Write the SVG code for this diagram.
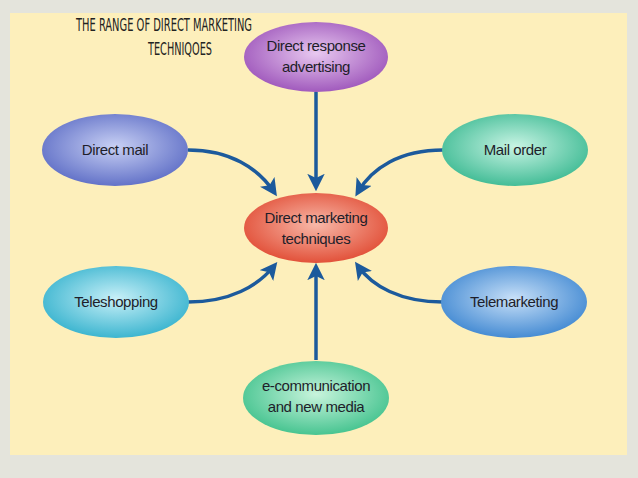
<svg xmlns="http://www.w3.org/2000/svg" width="638" height="478" viewBox="0 0 638 478">
<style>
.lbl{font-family:"Liberation Sans",Arial,sans-serif;font-size:15px;fill:#1e1e2a;text-anchor:middle;letter-spacing:-0.4px;font-weight:500}
.ttl{font-family:"DejaVu Sans Condensed","DejaVu Sans",sans-serif;font-size:18px;fill:#222}
.arr{fill:none;stroke:#1c5a9c;stroke-width:3.5;marker-end:url(#ah)}
</style>
<defs>
<marker id="ah" markerWidth="5" markerHeight="5" refX="3.5" refY="2.5" orient="auto"><path d="M0,0 L5,2.5 L0,5 L1.2,2.5 Z" fill="#1c5a9c"/></marker>
<radialGradient id="gP" cx="50%" cy="45%" r="60%"><stop offset="0" stop-color="#e8c8f0"/><stop offset="1" stop-color="#9a50b8"/></radialGradient>
<radialGradient id="gB" cx="50%" cy="45%" r="60%"><stop offset="0" stop-color="#c8d0f4"/><stop offset="1" stop-color="#5a6ac4"/></radialGradient>
<radialGradient id="gG" cx="50%" cy="45%" r="60%"><stop offset="0" stop-color="#c8f4e4"/><stop offset="1" stop-color="#38b890"/></radialGradient>
<radialGradient id="gR" cx="50%" cy="45%" r="60%"><stop offset="0" stop-color="#f8b8a8"/><stop offset="1" stop-color="#e04830"/></radialGradient>
<radialGradient id="gC" cx="50%" cy="45%" r="60%"><stop offset="0" stop-color="#c8f0f8"/><stop offset="1" stop-color="#30b0cc"/></radialGradient>
<radialGradient id="gL" cx="50%" cy="45%" r="60%"><stop offset="0" stop-color="#c8e0f8"/><stop offset="1" stop-color="#3a84d0"/></radialGradient>
<radialGradient id="gE" cx="50%" cy="45%" r="60%"><stop offset="0" stop-color="#c8f4dc"/><stop offset="1" stop-color="#3cc08a"/></radialGradient>
</defs>
<rect width="638" height="478" fill="#e4e4dc"/>
<rect x="10" y="13" width="617" height="442" fill="#fdefbb"/>
<text class="ttl" x="76" y="31" textLength="176" lengthAdjust="spacingAndGlyphs">THE RANGE OF DIRECT MARKETING</text>
<text class="ttl" x="148" y="55" textLength="64" lengthAdjust="spacingAndGlyphs">TECHNIQOES</text>
<g id="connectors">
<path class="arr" d="M316,92 L316,186"/>
<path class="arr" d="M188,150 C230,150 258,168 274,192"/>
<path class="arr" d="M443,150 C400,150 372,168 358,192"/>
<path class="arr" d="M188,302 C230,302 258,286 274,266"/>
<path class="arr" d="M443,302 C400,302 372,286 358,266"/>
<path class="arr" d="M316,360 L316,268"/>
</g>
<g id="n-center"><ellipse cx="316" cy="228" rx="72" ry="35" fill="url(#gR)"/><text class="lbl" x="316" y="223">Direct marketing</text><text class="lbl" x="316" y="244">techniques</text></g>
<g id="n-response"><ellipse cx="316" cy="57" rx="72" ry="35" fill="url(#gP)"/><text class="lbl" x="316" y="51">Direct response</text><text class="lbl" x="316" y="72">advertising</text></g>
<g id="n-mail"><ellipse cx="115" cy="150" rx="73" ry="36" fill="url(#gB)"/><text class="lbl" x="115" y="155">Direct mail</text></g>
<g id="n-order"><ellipse cx="515" cy="150" rx="73" ry="36" fill="url(#gG)"/><text class="lbl" x="515" y="155">Mail order</text></g>
<g id="n-teleshop"><ellipse cx="116" cy="302" rx="73" ry="36" fill="url(#gC)"/><text class="lbl" x="116" y="307">Teleshopping</text></g>
<g id="n-telemkt"><ellipse cx="514" cy="302" rx="73" ry="36" fill="url(#gL)"/><text class="lbl" x="514" y="307">Telemarketing</text></g>
<g id="n-ecomm"><ellipse cx="316" cy="398" rx="73" ry="37" fill="url(#gE)"/><text class="lbl" x="316" y="391">e-communication</text><text class="lbl" x="316" y="412">and new media</text></g>
</svg>
